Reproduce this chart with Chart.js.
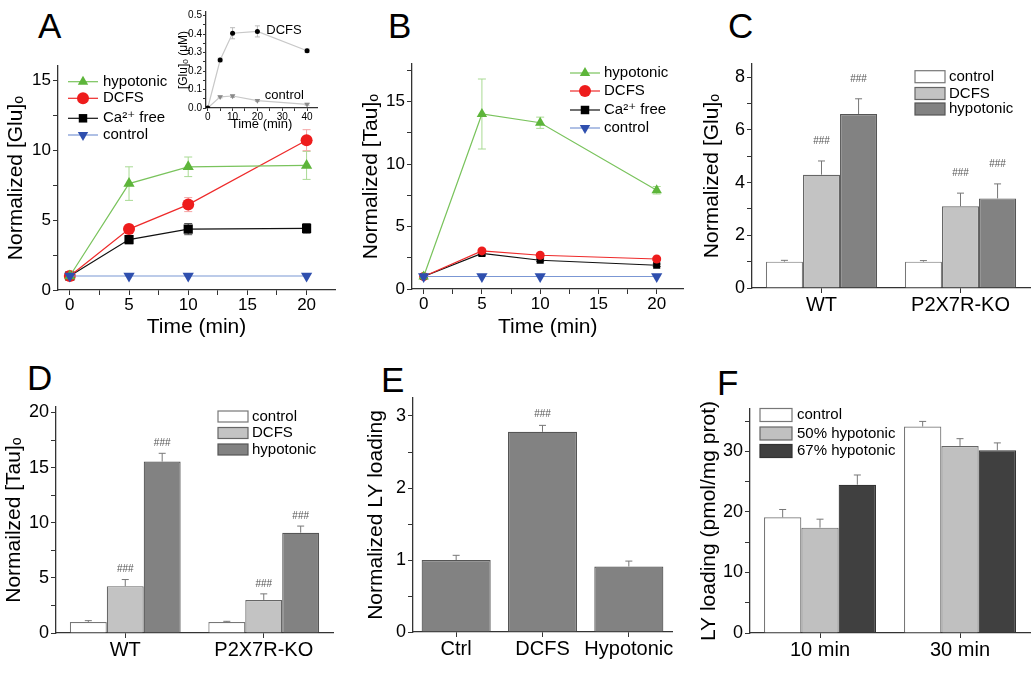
<!DOCTYPE html>
<html>
<head>
<meta charset="utf-8">
<script src="https://cdn.jsdelivr.net/npm/chart.js@4.4.0/dist/chart.umd.min.js"></script>
<style>
  body { margin: 0; background: #fff; width: 1031px; height: 681px; position: relative; overflow: hidden;
         font-family: "Liberation Sans", Arial, sans-serif; }
  canvas { position: absolute; }
  .panel { position: absolute; font-size: 35px; line-height: 1; color: #000; }
</style>
</head>
<body>
<div class="panel" style="left:38px;top:8px">A</div>
<div class="panel" style="left:388px;top:8px">B</div>
<div class="panel" style="left:728px;top:8px">C</div>
<div class="panel" style="left:27px;top:360px">D</div>
<div class="panel" style="left:381px;top:362px">E</div>
<div class="panel" style="left:717px;top:365px">F</div>

<canvas id="chartA" width="345" height="345" style="left:0;top:0"></canvas>
<canvas id="chartInset" width="175" height="135" style="left:150px;top:0"></canvas>
<canvas id="chartB" width="350" height="345" style="left:340px;top:0"></canvas>
<canvas id="chartC" width="351" height="345" style="left:680px;top:0"></canvas>
<canvas id="chartD" width="345" height="336" style="left:0;top:345px"></canvas>
<canvas id="chartE" width="345" height="336" style="left:345px;top:345px"></canvas>
<canvas id="chartF" width="351" height="336" style="left:680px;top:345px"></canvas>

<script>
// series names
var lineNames = ["hypotonic", "DCFS", "Ca²⁺ free", "control"];
var barNames = ["control", "DCFS", "hypotonic"];

// A: normalized [Glu]o vs time
var aTimes = [0, 5, 10, 20];
var aHypo = [1.0, 7.6, 8.8, 8.9];
var aHypoErr = [0, 1.2, 0.7, 1.0];
var aDcfs = [1.0, 4.35, 6.1, 10.7];
var aDcfsErr = [0, 0.3, 0.5, 0.75];
var aCaFree = [1.0, 3.6, 4.35, 4.4];
var aCaFreeErr = [0, 0.3, 0.4, 0.35];
var aControl = [1.0, 1.0, 1.0, 1.0];
var aXTicks = [0, 5, 10, 15, 20];
var aYTicks = [0, 5, 10, 15];

// A inset: [Glu]o in uM
var inTimes = [0, 5, 10, 20, 40];
var inDcfs = [0.0, 0.26, 0.405, 0.415, 0.31];
var inDcfsErr = [0, 0.01, 0.03, 0.03, 0.01];
var inControl = [0.0, 0.06, 0.065, 0.04, 0.02];
var inControlErr = [0, 0.005, 0.008, 0.005, 0.005];
var inXTicks = [0, 10, 20, 30, 40];
var inYTicks = [0, 0.1, 0.2, 0.3, 0.4, 0.5];

// B: normalized [Tau]o vs time
var bTimes = [0, 5, 10, 20];
var bHypo = [1.0, 14.0, 13.3, 7.9];
var bHypoErr = [0, 2.8, 0.45, 0.3];
var bDcfs = [1.0, 3.05, 2.7, 2.4];
var bDcfsErr = [0, 0.15, 0.15, 0.1];
var bCaFree = [1.0, 2.85, 2.3, 1.9];
var bCaFreeErr = [0, 0.15, 0.1, 0.1];
var bControl = [1.0, 1.0, 1.0, 1.0];
var bXTicks = [0, 5, 10, 15, 20];
var bYTicks = [0, 5, 10, 15];

// C: normalized [Glu]o, WT vs KO
var cGroups = ["WT", "P2X7R-KO"];
var cControl = [1.0, 1.0];
var cControlErr = [0.05, 0.04];
var cDcfs = [4.3, 3.1];
var cDcfsErr = [0.52, 0.5];
var cHypo = [6.6, 3.4];
var cHypoErr = [0.58, 0.55];
var cYTicks = [0, 2, 4, 6, 8];

// D: normalized [Tau]o, WT vs KO
var dGroups = ["WT", "P2X7R-KO"];
var dControl = [1.0, 1.0];
var dControlErr = [0.12, 0.06];
var dDcfs = [4.25, 3.0];
var dDcfsErr = [0.6, 0.55];
var dHypo = [15.55, 9.1];
var dHypoErr = [0.75, 0.6];
var dYTicks = [0, 5, 10, 15, 20];

// E: normalized LY loading
var eGroups = ["Ctrl", "DCFS", "Hypotonic"];
var eValues = [1.0, 2.78, 0.91];
var eErr = [0.065, 0.09, 0.075];
var eSig = ["", "###", ""];
var eYTicks = [0, 1, 2, 3];

// F: LY loading (pmol/mg prot)
var fGroups = ["10 min", "30 min"];
var fNames = ["control", "50% hypotonic", "67% hypotonic"];
var fControl = [19.1, 34.1];
var fControlErr = [1.3, 0.85];
var fHypo50 = [17.4, 30.9];
var fHypo50Err = [1.4, 1.2];
var fHypo67 = [24.5, 30.2];
var fHypo67Err = [1.6, 1.2];
var fYTicks = [0, 10, 20, 30];

var FONT = '"Liberation Sans", Arial, "DejaVu Sans", sans-serif';
Chart.defaults.font.family = FONT;
Chart.defaults.color = "#000";
var AXIS = "#333";

function tickSet(majors, minorStep, digits) {
  return {
    build: function (scale) {
      var out = [];
      var k = Math.ceil((scale.min - 1e-9) / minorStep);
      for (; k * minorStep <= scale.max + 1e-9; k++) out.push({ value: +(k * minorStep).toFixed(6) });
      scale.ticks = out;
    },
    label: function (v) {
      for (var i = 0; i < majors.length; i++) {
        if (Math.abs(majors[i] - v) < 1e-6) return digits ? majors[i].toFixed(digits) : String(majors[i]);
      }
      return "";
    }
  };
}

function yAxis(o) {
  var t = tickSet(o.majors, o.minor, o.digits);
  return {
    min: 0, max: o.max,
    afterBuildTicks: t.build,
    afterFit: function (s) { s.width = o.width; },
    border: { color: AXIS, width: 1.3 },
    grid: { drawOnChartArea: false, tickLength: o.tick || 5, color: AXIS },
    ticks: { callback: t.label, font: { size: o.font || 17 }, padding: o.pad === undefined ? 2 : o.pad, autoSkip: false },
    title: { display: true, text: o.title, font: { size: o.titleSize || 21 }, padding: { top: o.titlePad, bottom: 0 } }
  };
}

function xLinear(o) {
  var t = tickSet(o.majors, o.minor);
  return {
    type: "linear", min: o.min, max: o.max,
    afterBuildTicks: t.build,
    afterFit: function (s) { s.height = o.height; },
    border: { color: AXIS, width: 1.3 },
    grid: { drawOnChartArea: false, tickLength: o.tick || 5, color: AXIS },
    ticks: { callback: t.label, font: { size: o.font || 17 }, padding: 0, maxRotation: 0, autoSkip: false },
    title: { display: true, text: o.title, font: { size: o.titleSize || 21 }, padding: { top: 0, bottom: o.titlePad } }
  };
}

function xCategory(height) {
  return {
    type: "category",
    afterFit: function (s) { s.height = height; },
    border: { color: AXIS, width: 1.3 },
    grid: { drawOnChartArea: false, offset: false, tickLength: 5, color: AXIS },
    ticks: { font: { size: 20 }, padding: 0, maxRotation: 0, autoSkip: false }
  };
}

function lineSeries(name, xs, ys, errs, st) {
  return {
    label: name,
    data: ys.map(function (v, i) { return { x: xs[i], y: v }; }),
    errors: errs, errorColor: st.err, errorCap: st.cap || 4,
    borderColor: st.line, backgroundColor: st.fill, borderWidth: 1.2,
    pointStyle: st.shape, pointRadius: st.r, pointHoverRadius: st.r, pointRotation: st.rot || 0,
    pointBorderWidth: 0, pointBackgroundColor: st.fill, tension: 0, order: st.order || 0
  };
}

function barSeries(name, vals, errs, sig, st) {
  return {
    label: name, data: vals, errors: errs, sig: sig,
    errorColor: "#777", errorCap: 3.5,
    backgroundColor: st.fill, borderColor: st.border, borderWidth: 1.2,
    barPercentage: 1, categoryPercentage: 0.8
  };
}

var errorBars = {
  id: "errorBars",
  beforeDatasetsDraw: function (chart) {
    var ctx = chart.ctx;
    chart.data.datasets.forEach(function (ds, di) {
      if (!ds.errors) return;
      var meta = chart.getDatasetMeta(di);
      var ys = chart.scales[meta.yAxisID];
      var isBar = meta.type === "bar";
      var cap = ds.errorCap;
      ctx.save();
      ctx.strokeStyle = ds.errorColor;
      ctx.lineWidth = 1;
      meta.data.forEach(function (el, i) {
        var e = ds.errors[i];
        if (!e) return;
        var raw = ds.data[i];
        var v = typeof raw === "object" ? raw.y : raw;
        var top = ys.getPixelForValue(v + e);
        var bot = isBar ? el.y : ys.getPixelForValue(v - e);
        ctx.beginPath();
        ctx.moveTo(el.x, bot); ctx.lineTo(el.x, top);
        ctx.moveTo(el.x - cap, top); ctx.lineTo(el.x + cap, top);
        if (!isBar) { ctx.moveTo(el.x - cap, bot); ctx.lineTo(el.x + cap, bot); }
        ctx.stroke();
      });
      ctx.restore();
    });
  }
};

function makeSig(gap) {
  return {
    id: "sigMarks",
    afterDatasetsDraw: function (chart) {
      var ctx = chart.ctx;
      ctx.save();
      ctx.font = "10px " + FONT;
      ctx.fillStyle = "#555";
      ctx.textAlign = "center";
      ctx.textBaseline = "middle";
      chart.data.datasets.forEach(function (ds, di) {
        if (!ds.sig) return;
        var meta = chart.getDatasetMeta(di);
        var ys = chart.scales[meta.yAxisID];
        meta.data.forEach(function (el, i) {
          if (!ds.sig[i]) return;
          var y = ys.getPixelForValue(ds.data[i] + (ds.errors ? ds.errors[i] : 0)) - gap;
          ctx.fillText(ds.sig[i], el.x, y);
        });
      });
      ctx.restore();
    }
  };
}

function makeKey(cfg) {
  return {
    id: "keyBox",
    afterDraw: function (chart) {
      var ctx = chart.ctx;
      ctx.save();
      ctx.font = (cfg.size || 15) + "px " + FONT;
      ctx.textBaseline = "middle";
      chart.data.datasets.forEach(function (ds, i) {
        var cy = cfg.rows[i];
        if (cfg.kind === "line") {
          ctx.strokeStyle = ds.borderColor;
          ctx.lineWidth = 1.2;
          ctx.beginPath();
          ctx.moveTo(cfg.x, cy); ctx.lineTo(cfg.x + cfg.w, cy);
          ctx.stroke();
          ctx.fillStyle = ds.pointBackgroundColor;
          var r = cfg.r || ds.pointRadius;
          if (Chart.helpers && Chart.helpers.drawPoint) {
            Chart.helpers.drawPoint(ctx, { pointStyle: ds.pointStyle, radius: r, rotation: ds.pointRotation, borderWidth: 0 }, cfg.x + cfg.w / 2, cy);
          } else {
            ctx.beginPath(); ctx.arc(cfg.x + cfg.w / 2, cy, r, 0, Math.PI * 2); ctx.fill();
          }
        } else {
          ctx.fillStyle = ds.backgroundColor;
          ctx.strokeStyle = ds.borderColor;
          ctx.lineWidth = 1.2;
          ctx.fillRect(cfg.x, cy - cfg.h / 2, cfg.w, cfg.h);
          ctx.strokeRect(cfg.x, cy - cfg.h / 2, cfg.w, cfg.h);
        }
        ctx.fillStyle = "#000";
        ctx.fillText(ds.label, cfg.x + cfg.w + cfg.gap, cy);
      });
      ctx.restore();
    }
  };
}

function makeNotes(items, size) {
  return {
    id: "notes",
    afterDraw: function (chart) {
      var ctx = chart.ctx;
      ctx.save();
      ctx.font = size + "px " + FONT;
      ctx.fillStyle = "#000";
      ctx.textBaseline = "middle";
      items.forEach(function (n) {
        ctx.fillText(n.text, chart.scales.x.getPixelForValue(n.x), chart.scales.y.getPixelForValue(n.y));
      });
      ctx.restore();
    }
  };
}

var HYPO = { line: "#79c35c", fill: "#5db53a", err: "#a9da94", shape: "triangle", r: 6.5 };
var DCFS = { line: "#ee2a2a", fill: "#ee1c1c", err: "#f4a3a3", shape: "circle", r: 6 };
var CAFREE = { line: "#111", fill: "#000", err: "#555", shape: "rect", r: 6.5 };
var CTRL = { line: "#7b97d4", fill: "#2f4fae", err: "#7b97d4", shape: "triangle", r: 6.5, rot: 180, order: -1 };

function base(padding) {
  return {
    responsive: false, animation: false, devicePixelRatio: 1,
    layout: { padding: padding },
    plugins: { legend: { display: false }, tooltip: { enabled: false } }
  };
}

// ---- A
var optA = base({ left: 0, top: 66, right: 10, bottom: 0 });
optA.scales = {
  x: xLinear({ min: -1, max: 22.4, majors: aXTicks, minor: 2.5, height: 55, title: "Time (min)", titlePad: 5 }),
  y: yAxis({ max: 16, majors: aYTicks, minor: 2.5, width: 58, title: "Normalized [Glu]ₒ", titlePad: 4 })
};
new Chart(document.getElementById("chartA"), {
  type: "line",
  data: { datasets: [
    lineSeries(lineNames[0], aTimes, aHypo, aHypoErr, HYPO),
    lineSeries(lineNames[1], aTimes, aDcfs, aDcfsErr, DCFS),
    lineSeries(lineNames[2], aTimes, aCaFree, aCaFreeErr, CAFREE),
    lineSeries(lineNames[3], aTimes, aControl, null, CTRL)
  ] },
  options: optA,
  plugins: [errorBars, makeKey({ kind: "line", x: 68, w: 30, gap: 5, rows: [81.7, 98.3, 118.3, 135], r: 6 })]
});

// ---- A inset
var optIn = base({ left: 0, top: 12, right: 8, bottom: 0 });
optIn.scales = {
  x: xLinear({ min: -0.7, max: 44, majors: inXTicks, minor: 5, height: 27, title: "Time (min)", titlePad: 3, font: 10, titleSize: 13, tick: 3 }),
  y: yAxis({ max: 0.52, majors: inYTicks, minor: 0.05, digits: 1, width: 56, title: "[Glu]ₒ (μM)", titlePad: 26, font: 10, titleSize: 12, tick: 3, pad: 1 })
};
new Chart(document.getElementById("chartInset"), {
  type: "line",
  data: { datasets: [
    lineSeries("DCFS", inTimes, inDcfs, inDcfsErr, { line: "#c8c8c8", fill: "#000", err: "#bbb", shape: "circle", r: 2.5, cap: 2.5 }),
    lineSeries("control", inTimes, inControl, inControlErr, { line: "#c8c8c8", fill: "#8a8a8a", err: "#bbb", shape: "triangle", r: 3.2, rot: 180, cap: 2.5 })
  ] },
  options: optIn,
  plugins: [errorBars, makeNotes([{ text: "DCFS", x: 23.6, y: 0.418 }, { text: "control", x: 23, y: 0.07 }], 13)]
});

// ---- B
var optB = base({ left: 0, top: 64, right: 2, bottom: 0 });
optB.scales = {
  x: xLinear({ min: -1, max: 22.3, majors: bXTicks, minor: 2.5, height: 56, title: "Time (min)", titlePad: 5 }),
  y: yAxis({ max: 18, majors: bYTicks, minor: 2.5, width: 72, title: "Normalized [Tau]ₒ", titlePad: 19 })
};
new Chart(document.getElementById("chartB"), {
  type: "line",
  data: { datasets: [
    lineSeries(lineNames[0], bTimes, bHypo, bHypoErr, Object.assign({}, HYPO, { r: 6 })),
    lineSeries(lineNames[1], bTimes, bDcfs, bDcfsErr, Object.assign({}, DCFS, { r: 4.5 })),
    lineSeries(lineNames[2], bTimes, bCaFree, bCaFreeErr, Object.assign({}, CAFREE, { r: 5 })),
    lineSeries(lineNames[3], bTimes, bControl, null, Object.assign({}, CTRL, { r: 6.5 }))
  ] },
  options: optB,
  plugins: [errorBars, makeKey({ kind: "line", x: 230, w: 30, gap: 4, rows: [73, 91, 110, 128], r: 6 })]
});

var BAR_CTRL = { fill: "#ffffff", border: "#777" };
var BAR_DCFS = { fill: "#c3c3c3", border: "#666" };
var BAR_HYPO = { fill: "#828282", border: "#555" };

// ---- C
var optC = base({ left: 0, top: 64, right: 1, bottom: 0 });
optC.scales = {
  x: xCategory(57),
  y: yAxis({ max: 8.5, majors: cYTicks, minor: 1, width: 72, title: "Normalized [Glu]ₒ", titlePad: 20, font: 18 })
};
new Chart(document.getElementById("chartC"), {
  type: "bar",
  data: { labels: cGroups, datasets: [
    barSeries(barNames[0], cControl, cControlErr, null, BAR_CTRL),
    barSeries(barNames[1], cDcfs, cDcfsErr, ["###", "###"], BAR_DCFS),
    barSeries(barNames[2], cHypo, cHypoErr, ["###", "###"], BAR_HYPO)
  ] },
  options: optC,
  plugins: [errorBars, makeSig(20), makeKey({ kind: "box", x: 235, w: 30, h: 12, gap: 4, rows: [76.7, 93.5, 109] })]
});

// ---- D
var optD = base({ left: 0, top: 62, right: 12, bottom: 0 });
optD.scales = {
  x: xCategory(48),
  y: yAxis({ max: 20.5, majors: dYTicks, minor: 2.5, width: 56, title: "Normailzed [Tau]ₒ", titlePad: 2, font: 18 })
};
new Chart(document.getElementById("chartD"), {
  type: "bar",
  data: { labels: dGroups, datasets: [
    barSeries(barNames[0], dControl, dControlErr, null, BAR_CTRL),
    barSeries(barNames[1], dDcfs, dDcfsErr, ["###", "###"], BAR_DCFS),
    barSeries(barNames[2], dHypo, dHypoErr, ["###", "###"], BAR_HYPO)
  ] },
  options: optD,
  plugins: [errorBars, makeSig(10), makeKey({ kind: "box", x: 218, w: 30, h: 11, gap: 4, rows: [71.5, 88, 104.5] })]
});

// ---- E
var optE = base({ left: 0, top: 53, right: 18, bottom: 0 });
optE.scales = {
  x: xCategory(49),
  y: yAxis({ max: 3.25, majors: eYTicks, minor: 0.5, width: 68, title: "Normalized LY loading", titlePad: 19, font: 18 })
};
new Chart(document.getElementById("chartE"), {
  type: "bar",
  data: { labels: eGroups, datasets: [
    barSeries("LY loading", eValues, eErr, eSig, BAR_HYPO)
  ] },
  options: optE,
  plugins: [errorBars, makeSig(11)]
});

// ---- F
var optF = base({ left: 0, top: 64, right: 1, bottom: 0 });
optF.scales = {
  x: xCategory(48),
  y: yAxis({ max: 37, majors: fYTicks, minor: 5, width: 70, title: "LY loading (pmol/mg prot)", titlePad: 17, font: 18 })
};
new Chart(document.getElementById("chartF"), {
  type: "bar",
  data: { labels: fGroups, datasets: [
    barSeries(fNames[0], fControl, fControlErr, null, BAR_CTRL),
    barSeries(fNames[1], fHypo50, fHypo50Err, null, { fill: "#c0c0c0", border: "#666" }),
    barSeries(fNames[2], fHypo67, fHypo67Err, null, { fill: "#404040", border: "#333" })
  ] },
  options: optF,
  plugins: [errorBars, makeKey({ kind: "box", x: 80, w: 32, h: 13, gap: 5, rows: [70, 88.5, 106] })]
});
</script>
</body>
</html>
